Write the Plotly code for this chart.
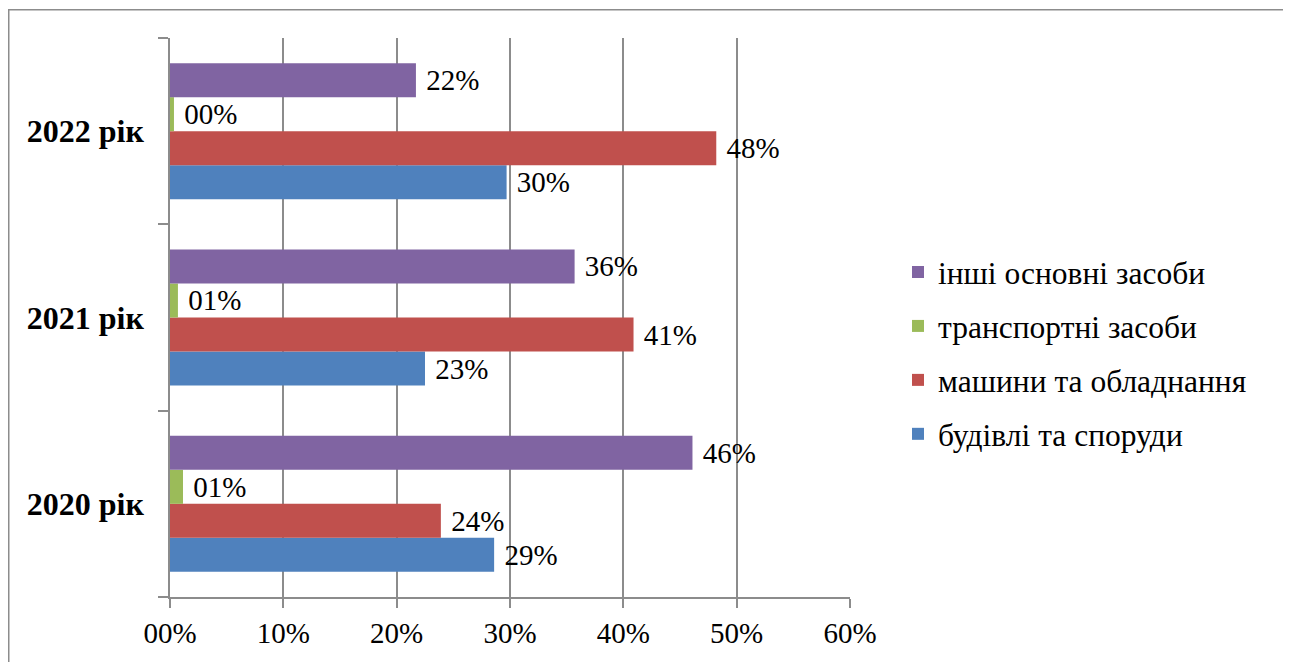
import plotly.graph_objects as go

categories = ["2020 рік", "2021 рік", "2022 рік"]
series_names = ["будівлі та споруди", "машини та обладнання", "транспортні засоби", "інші основні засоби"]
buildings = [28.6, 22.5, 29.7]
machines = [23.9, 40.9, 48.2]
transport = [1.15, 0.7, 0.35]
other = [46.1, 35.7, 21.7]
colors = ["#4F81BD", "#C0504D", "#9BBB59", "#8064A2"]
x_ticks = [0, 10, 20, 30, 40, 50, 60]

FONT = "Liberation Serif, Tinos, 'Times New Roman', 'DejaVu Serif', serif"
OFF = 8  # page body margin
W, H = 1291 - OFF, 662 - OFF
L, R, T, B = 170 - OFF, 850 - OFF, 38 - OFF, 597 - OFF

fig = go.Figure()
for i, (name, vals) in enumerate(zip(series_names, [buildings, machines, transport, other])):
    fig.add_trace(go.Bar(
        y=categories, x=[v / 100 for v in vals], name=name, orientation="h",
        marker=dict(color=colors[i], line=dict(width=0)),
        texttemplate="\u00a0%{x:03.0%}", textposition="outside",
        textfont=dict(family=FONT, size=29, color="black"),
        constraintext="none", cliponaxis=False,
        legendgroup=name, legendrank=4 - i,
    ))

def px2x(px):
    return (px - OFF - L) / (R - L)

def py2y(py):
    return (B - (py - OFF)) / (B - T)

fig.add_shape(type="rect", xref="paper", yref="paper",
              x0=px2x(8.75), x1=px2x(1285), y0=py2y(700), y1=py2y(9.75),
              line=dict(color="#8c8c8c", width=1.5), fillcolor="rgba(0,0,0,0)", layer="below")

fig.update_layout(
    width=W, height=H,
    margin=dict(l=L, r=W - R, t=T, b=H - B, pad=0),
    paper_bgcolor="white", plot_bgcolor="white",
    barmode="group", bargap=0.27, bargroupgap=0,
    font=dict(family=FONT, color="black"),
    showlegend=True,
    legend=dict(x=px2x(898), y=py2y(353), xanchor="left", yanchor="middle",
                traceorder="grouped", tracegroupgap=10,
                font=dict(family=FONT, size=31.5, color="black"),
                itemwidth=30, bgcolor="rgba(0,0,0,0)"),
    xaxis=dict(range=[0, 0.6], tickvals=[t / 100 for t in x_ticks], tickformat="03.0%",
               showgrid=True, gridcolor="#8c8c8c", gridwidth=1.5,
               showline=True, linecolor="#8c8c8c", linewidth=1.5,
               ticks="outside", ticklen=9, tickcolor="#8c8c8c", tickwidth=1.5,
               tickfont=dict(family=FONT, size=29, color="black"),
               zeroline=False, fixedrange=True),
    yaxis=dict(type="category", categoryorder="array", categoryarray=categories,
               showline=True, linecolor="#8c8c8c", linewidth=1.5,
               ticks="outside", ticklen=10, tickcolor="#8c8c8c", tickwidth=1.5,
               tickson="boundaries", showgrid=False,
               tickfont=dict(family=FONT, size=32, color="black", weight="bold"),
               ticklabelstandoff=18, fixedrange=True),
)

fig.write_html("out.html")
